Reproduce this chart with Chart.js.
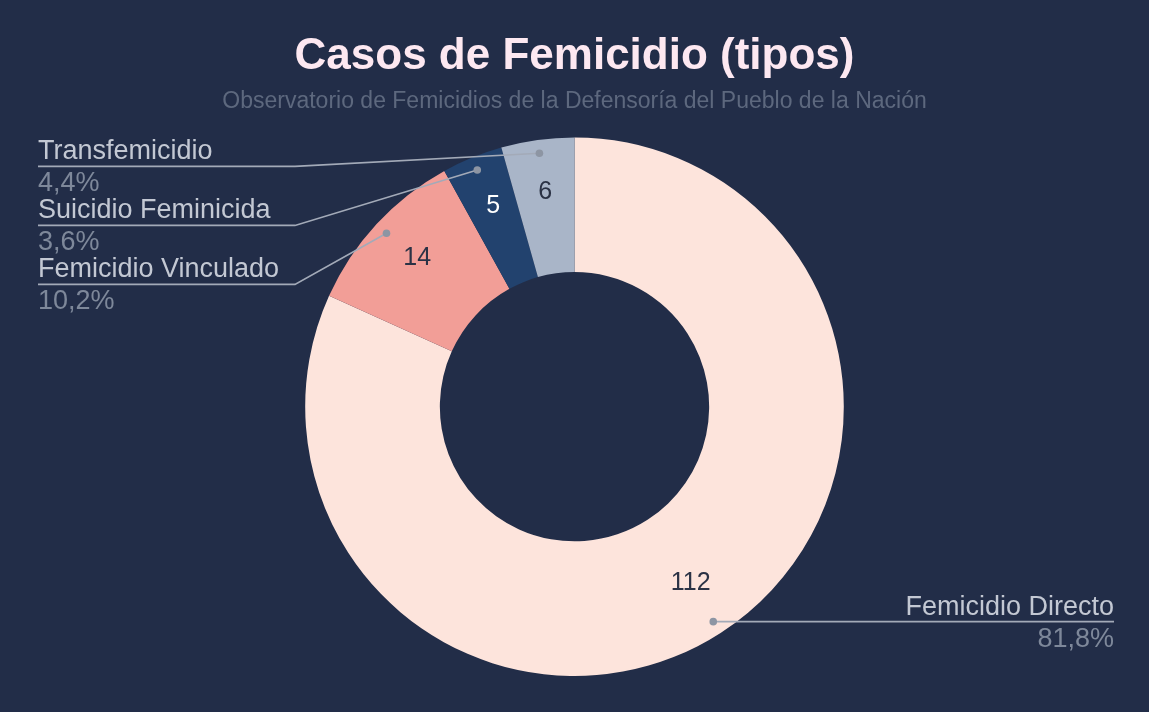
<!DOCTYPE html>
<html>
<head>
<meta charset="utf-8">
<script src="https://cdn.jsdelivr.net/npm/chart.js@4.4.0/dist/chart.umd.min.js"></script>
<style>
html,body{margin:0;padding:0;background:#222d48;}
#wrap{position:absolute;left:0;top:0;width:1149px;height:712px;background:#222d48;}
</style>
</head>
<body>
<div id="wrap"><canvas id="c" width="1149" height="712"></canvas></div>
<script>
const categories = ["Femicidio Directo", "Femicidio Vinculado", "Suicidio Feminicida", "Transfemicidio"];
const values = [112, 14, 5, 6];
const percentLabels = ["81,8%", "10,2%", "3,6%", "4,4%"];
const sliceColors = ["#fde4dc", "#f29e97", "#22426e", "#a9b5c8"];
const valueTextColors = ["#2b3245", "#2b3245", "#ffffff", "#2b3245"];
const titleText = "Casos de Femicidio (tipos)";
const subtitleText = "Observatorio de Femicidios de la Defensoría del Pueblo de la Nación";

const FONT = "'Liberation Sans', Arial, sans-serif";

const labelPlugin = {
  id: 'labelPlugin',
  afterDatasetsDraw(chart) {
    const ctx = chart.ctx;
    const meta = chart.getDatasetMeta(0);
    const area = chart.chartArea;
    ctx.save();
    // values inside slices
    meta.data.forEach((arc, i) => {
      const mid = (arc.startAngle + arc.endAngle) / 2;
      const r = arc.innerRadius + (arc.outerRadius - arc.innerRadius) * 0.59;
      const x = arc.x + Math.cos(mid) * r;
      const y = arc.y + Math.sin(mid) * r - 3;
      ctx.fillStyle = valueTextColors[i];
      ctx.font = "25px " + FONT;
      ctx.textAlign = 'center';
      ctx.textBaseline = 'middle';
      ctx.fillText(String(values[i]), x, y);
    });
    // leader lines and outside labels
    const leftItems = [], rightItems = [];
    meta.data.forEach((arc, i) => {
      const mid = (arc.startAngle + arc.endAngle) / 2;
      const r = arc.outerRadius * 0.95;
      const dx = arc.x + Math.cos(mid) * r;
      const dy = arc.y + Math.sin(mid) * r;
      const item = {i, dx, dy};
      if (Math.cos(mid) < 0) leftItems.push(item); else rightItems.push(item);
    });
    const place = (items) => {
      items.sort((a, b) => a.dy - b.dy);
      let prev = -Infinity;
      items.forEach(it => {
        it.ly = Math.max(it.dy, area.top + 29, prev + 59);
        prev = it.ly;
      });
    };
    place(leftItems); place(rightItems);
    const draw = (it, left) => {
      const textX = left ? 38 : 1114;
      const elbowX = left ? 295 : Math.min(it.dx, 1114);
      ctx.strokeStyle = '#a3aab8';
      ctx.lineWidth = 1.6;
      ctx.beginPath();
      ctx.moveTo(it.dx, it.dy);
      ctx.lineTo(elbowX, it.ly);
      ctx.lineTo(textX, it.ly);
      ctx.stroke();
      ctx.fillStyle = '#8d95a3';
      ctx.beginPath();
      ctx.arc(it.dx, it.dy, 3.8, 0, Math.PI * 2);
      ctx.fill();
      ctx.textAlign = left ? 'left' : 'right';
      ctx.font = "27px " + FONT;
      ctx.textBaseline = 'alphabetic';
      ctx.fillStyle = '#c3c8d3';
      ctx.fillText(categories[it.i], textX, it.ly - 7);
      ctx.fillStyle = '#7e889a';
      ctx.fillText(percentLabels[it.i], textX, it.ly + 25);
    };
    leftItems.forEach(it => draw(it, true));
    rightItems.forEach(it => draw(it, false));
    ctx.restore();
  }
};

new Chart(document.getElementById('c'), {
  type: 'doughnut',
  data: {
    labels: categories,
    datasets: [{
      data: values,
      backgroundColor: sliceColors,
      borderWidth: 0,
      hoverOffset: 0
    }]
  },
  options: {
    responsive: false,
    animation: false,
    cutout: '50%',
    layout: { padding: { top: 0, bottom: 36, left: 0, right: 0 } },
    plugins: {
      legend: { display: false },
      tooltip: { enabled: false },
      title: {
        display: true,
        text: titleText,
        color: '#fde8f1',
        font: { family: FONT, size: 44, weight: 'bold' },
        padding: { top: 30, bottom: 5 }
      },
      subtitle: {
        display: true,
        text: subtitleText,
        color: '#5d687e',
        font: { family: FONT, size: 23 },
        padding: { top: 0, bottom: 22 }
      }
    }
  },
  plugins: [labelPlugin]
});
</script>
</body>
</html>
